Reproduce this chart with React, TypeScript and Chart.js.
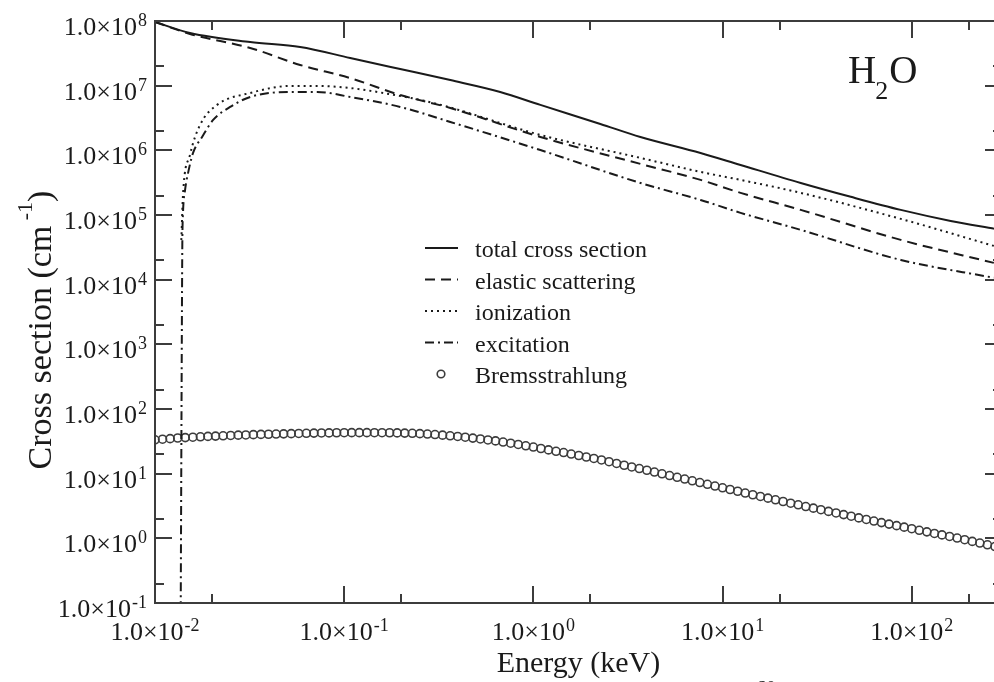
import React, { useEffect, useRef } from "react";
import { Chart, registerables } from "chart.js";

Chart.register(...registerables);

// ---------------- data ----------------
const totalEnergy = [0.01, 0.01531, 0.03185, 0.0585, 0.1076, 0.1977, 0.3639, 0.668, 1.089, 2.26, 3.68, 7.65, 12.45, 25.9, 47.6, 87.5, 160.7, 274.8];
const totalValues = [9.66e7, 6.53e7, 4.73e7, 3.96e7, 2.68e7, 1.81e7, 1.22e7, 8.0e6, 5.04e6, 2.56e6, 1.61e6, 9.12e5, 5.94e5, 3.13e5, 1.91e5, 1.2e5, 8.1e4, 6.1e4];

const elasticEnergy = [0.01, 0.01531, 0.03185, 0.0585, 0.1076, 0.1977, 0.3639, 1.089, 3.68, 7.65, 12.45, 25.9, 87.5, 271.6];
const elasticValues = [9.66e7, 6.3e7, 3.83e7, 2.09e7, 1.31e7, 7.18e6, 4.52e6, 1.61e6, 6.17e5, 3.49e5, 2.2e5, 1.2e5, 4.12e4, 1.82e4];

const ionizationEnergy = [0.01378, 0.01406, 0.01531, 0.0173, 0.02128, 0.03185, 0.0518, 0.0719, 0.1076, 0.1607, 0.2958, 1.089, 3.68, 7.65, 12.45, 25.9, 87.5, 271.6];
const ionizationValues = [4.1e4, 2.05e5, 8.5e5, 2.47e6, 5.04e6, 7.71e6, 9.89e6, 9.89e6, 9.2e6, 7.71e6, 5.41e6, 1.73e6, 7.64e5, 4.64e5, 3.49e5, 2.2e5, 8.71e4, 3.33e4];

const excitationEnergy = [0.01365, 0.0139, 0.01395, 0.01406, 0.01442, 0.01496, 0.01589, 0.01774, 0.02029, 0.02495, 0.03185, 0.0518, 0.0719, 0.1076, 0.1977, 0.3639, 1.089, 3.68, 7.65, 12.45, 25.9, 87.5, 271.6];
const excitationValues = [0.02, 7.7e3, 4.1e4, 1.08e5, 2.44e5, 4.48e5, 9.12e5, 1.61e6, 2.95e6, 4.69e6, 6.69e6, 8.0e6, 8.0e6, 6.69e6, 4.69e6, 2.75e6, 1.01e6, 3.13e5, 1.71e5, 1.08e5, 5.89e4, 2.02e4, 1.07e4];

const bremsEnergy = [
  0.01, 0.01096, 0.01202, 0.01318, 0.01445, 0.01585, 0.01738, 0.01905, 0.02089, 0.02291, 0.02512, 0.02754, 0.0302, 0.03311, 0.03631, 0.03981, 0.04365, 0.04786, 0.05248, 0.05754, 0.0631, 0.06918, 0.07586, 0.08318, 0.0912,
  0.1, 0.1096, 0.1202, 0.1318, 0.1445, 0.1585, 0.1738, 0.1905, 0.2089, 0.2291, 0.2512, 0.2754, 0.302, 0.3311, 0.3631, 0.3981, 0.4365, 0.4786, 0.5248, 0.5754, 0.631, 0.6918, 0.7586, 0.8318, 0.912,
  1, 1.096, 1.202, 1.318, 1.445, 1.585, 1.738, 1.905, 2.089, 2.291, 2.512, 2.754, 3.02, 3.311, 3.631, 3.981, 4.365, 4.786, 5.248, 5.754, 6.31, 6.918, 7.586, 8.318, 9.12,
  10, 10.96, 12.02, 13.18, 14.45, 15.85, 17.38, 19.05, 20.89, 22.91, 25.12, 27.54, 30.2, 33.11, 36.31, 39.81, 43.65, 47.86, 52.48, 57.54, 63.1, 69.18, 75.86, 83.18, 91.2,
  100, 109.6, 120.2, 131.8, 144.5, 158.5, 173.8, 190.5, 208.9, 229.1, 251.2, 275.4,
];
const bremsValues = [
  33.4, 34.1, 34.8, 35.6, 36.1, 36.6, 37.2, 37.7, 38.1, 38.5, 39.0, 39.4, 39.7, 40.1, 40.5, 40.7, 41.0, 41.3, 41.6, 41.9, 42.1, 42.4, 42.6, 42.7, 42.9,
  43.0, 43.1, 43.1, 43.1, 43.0, 43.0, 42.9, 42.7, 42.4, 42.1, 41.6, 41.0, 40.3, 39.4, 38.5, 37.6, 36.6, 35.5, 34.4, 33.2, 32.1, 30.8, 29.6, 28.3, 27.0,
  25.8, 24.5, 23.3, 22.2, 21.2, 20.1, 19.1, 18.1, 17.2, 16.3, 15.3, 14.4, 13.5, 12.7, 12.0, 11.3, 10.6, 9.95, 9.35, 8.79, 8.26, 7.76, 7.29, 6.85, 6.44,
  6.05, 5.69, 5.35, 5.02, 4.72, 4.44, 4.18, 3.94, 3.71, 3.49, 3.30, 3.10, 2.93, 2.77, 2.61, 2.47, 2.33, 2.20, 2.07, 1.96, 1.85, 1.75, 1.66, 1.57, 1.49,
  1.41, 1.33, 1.26, 1.19, 1.13, 1.07, 1.01, 0.953, 0.897, 0.845, 0.794, 0.746,
];

const seriesNames = ["total cross section", "elastic scattering", "ionization", "excitation", "Bremsstrahlung"];

const xMajorTicks = [0.01, 0.1, 1, 10, 100];
const xMinorTicks = [0.02, 0.2, 2, 20, 200];
const xTickExponents = ["-2", "-1", "0", "1", "2"];
const yMajorTicks = [0.1, 1, 10, 100, 1e3, 1e4, 1e5, 1e6, 1e7, 1e8];
const yMinorTicks = [0.2, 2, 20, 200, 2e3, 2e4, 2e5, 2e6, 2e7];
const yTickExponents = ["-1", "0", "1", "2", "3", "4", "5", "6", "7", "8"];
const tickMantissa = "1.0\u00d710";

const xMin = 0.01;
const xMax = 300;
const yMin = 0.1;
const yMax = 1e8;

// ---------------- styling ----------------
const FONT = '"Liberation Serif", "Times New Roman", serif';
const INK = "#1a1a1a";
const AXIS = "#3c3c3c";
const DASH_ELASTIC = [10, 6];
const DASH_ION = [2, 4];
const DASH_EXC = [9, 4, 2, 4];

const pts = (xs: number[], ys: number[]) => xs.map((x, i) => ({ x, y: ys[i] }));

function drawSci(ctx: CanvasRenderingContext2D, exp: string, x: number, y: number, align: "right" | "center") {
  ctx.font = `26px ${FONT}`;
  const w1 = ctx.measureText(tickMantissa).width;
  ctx.font = `18px ${FONT}`;
  const w2 = ctx.measureText(exp).width;
  const total = w1 + 1 + w2;
  const x0 = align === "right" ? x - total : x - total / 2;
  ctx.textAlign = "left";
  ctx.textBaseline = "alphabetic";
  ctx.fillStyle = INK;
  ctx.font = `26px ${FONT}`;
  ctx.fillText(tickMantissa, x0, y);
  ctx.font = `18px ${FONT}`;
  ctx.fillText(exp, x0 + w1 + 1, y - 9);
}

const decorPlugin = {
  id: "decor",
  afterDatasetsDraw(chart: any) {
    const ctx: CanvasRenderingContext2D = chart.ctx;
    const a = chart.chartArea;
    const xs = chart.scales.x;
    const ys = chart.scales.y;
    ctx.save();
    ctx.strokeStyle = AXIS;
    ctx.lineWidth = 2;
    ctx.setLineDash([]);
    ctx.strokeRect(a.left, a.top, a.right - a.left, a.bottom - a.top);
    const seg = (x1: number, y1: number, x2: number, y2: number) => {
      ctx.beginPath();
      ctx.moveTo(x1, y1);
      ctx.lineTo(x2, y2);
      ctx.stroke();
    };
    const MAJ = 17;
    const MIN = 9;
    xMajorTicks.forEach((v) => {
      const p = Math.round(xs.getPixelForValue(v));
      seg(p, a.bottom, p, a.bottom - MAJ);
      seg(p, a.top, p, a.top + MAJ);
    });
    xMinorTicks.forEach((v) => {
      const p = Math.round(xs.getPixelForValue(v));
      seg(p, a.bottom, p, a.bottom - MIN);
      seg(p, a.top, p, a.top + MIN);
    });
    yMajorTicks.forEach((v) => {
      const p = Math.round(ys.getPixelForValue(v));
      seg(a.left, p, a.left + MAJ, p);
      seg(a.right, p, a.right - MAJ, p);
    });
    yMinorTicks.forEach((v) => {
      const p = Math.round(ys.getPixelForValue(v));
      seg(a.left, p, a.left + MIN, p);
      seg(a.right, p, a.right - MIN, p);
    });

    // tick labels
    xMajorTicks.forEach((v, i) => {
      drawSci(ctx, xTickExponents[i], xs.getPixelForValue(v), a.bottom + 37, "center");
    });
    yMajorTicks.forEach((v, i) => {
      drawSci(ctx, yTickExponents[i], a.left - 8, ys.getPixelForValue(v) + 14, "right");
    });

    // axis titles
    ctx.fillStyle = INK;
    ctx.font = `30px ${FONT}`;
    ctx.textAlign = "center";
    ctx.textBaseline = "alphabetic";
    ctx.fillText("Energy (keV)", (a.left + a.right) / 2, 672);

    ctx.save();
    ctx.translate(51, 330);
    ctx.rotate(-Math.PI / 2);
    ctx.textAlign = "left";
    ctx.font = `34px ${FONT}`;
    const t1 = "Cross section (cm";
    const t3 = ")";
    const w1 = ctx.measureText(t1).width;
    const w3 = ctx.measureText(t3).width;
    ctx.font = `22px ${FONT}`;
    const t2 = " -1";
    const w2 = ctx.measureText(t2).width;
    const tot = w1 + w2 + w3;
    let cx = -tot / 2;
    ctx.font = `34px ${FONT}`;
    ctx.fillText(t1, cx, 0);
    cx += w1;
    ctx.font = `22px ${FONT}`;
    ctx.fillText(t2, cx, -19);
    cx += w2;
    ctx.font = `34px ${FONT}`;
    ctx.fillText(t3, cx, 0);
    ctx.restore();

    // H2O label
    ctx.fillStyle = INK;
    ctx.textAlign = "left";
    ctx.font = `39px ${FONT}`;
    ctx.fillText("H", 848, 83);
    const wH = ctx.measureText("H").width;
    ctx.font = `26px ${FONT}`;
    ctx.fillText("2", 848 + wH - 1, 99);
    const w2s = ctx.measureText("2").width;
    ctx.font = `39px ${FONT}`;
    ctx.fillText("O", 848 + wH - 1 + w2s + 1, 83);

    // stray text cut at the lower edge of the source picture
    ctx.font = `20px ${FONT}`;
    ctx.fillText("60", 756, 695);

    // legend
    const rows = [248, 279.5, 311, 342.5, 374];
    const dashes = [[], DASH_ELASTIC, DASH_ION, DASH_EXC];
    ctx.font = `24px ${FONT}`;
    rows.forEach((ry, i) => {
      ctx.strokeStyle = INK;
      if (i < 4) {
        ctx.lineWidth = 2;
        ctx.setLineDash(dashes[i] as number[]);
        seg(425, ry, 458, ry);
        ctx.setLineDash([]);
      } else {
        ctx.lineWidth = 1.6;
        ctx.strokeStyle = AXIS;
        ctx.beginPath();
        ctx.arc(441, ry, 3.8, 0, Math.PI * 2);
        ctx.stroke();
      }
      ctx.fillStyle = INK;
      ctx.fillText(seriesNames[i], 475, ry + 9);
    });
    ctx.restore();
  },
};

export default function App() {
  const canvasRef = useRef<HTMLCanvasElement | null>(null);

  useEffect(() => {
    const canvas = canvasRef.current;
    if (!canvas) return;
    const lineBase = {
      showLine: true,
      pointRadius: 0,
      borderColor: INK,
      borderWidth: 2,
      fill: false,
      cubicInterpolationMode: "monotone" as const,
    };
    const chart = new Chart(canvas, {
      type: "line",
      data: {
        datasets: [
          { ...lineBase, label: seriesNames[0], data: pts(totalEnergy, totalValues) },
          { ...lineBase, label: seriesNames[1], data: pts(elasticEnergy, elasticValues), borderDash: DASH_ELASTIC },
          { ...lineBase, label: seriesNames[2], data: pts(ionizationEnergy, ionizationValues), borderDash: DASH_ION },
          { ...lineBase, label: seriesNames[3], data: pts(excitationEnergy, excitationValues), borderDash: DASH_EXC },
          {
            label: seriesNames[4],
            data: pts(bremsEnergy, bremsValues),
            showLine: false,
            pointRadius: 4,
            pointBorderWidth: 1.6,
            pointBorderColor: AXIS,
            pointBackgroundColor: "rgba(255,255,255,0)",
            borderColor: AXIS,
          },
        ],
      },
      options: {
        responsive: false,
        animation: false,
        devicePixelRatio: 1,
        layout: { padding: { left: 155, right: 8, top: 21, bottom: 79 } },
        plugins: { legend: { display: false }, tooltip: { enabled: false } },
        scales: {
          x: { type: "logarithmic", min: xMin, max: xMax, display: false },
          y: { type: "logarithmic", min: yMin, max: yMax, display: false },
        },
      },
      plugins: [decorPlugin],
    });
    return () => chart.destroy();
  }, []);

  return (
    <div style={{ position: "fixed", left: 0, top: 0, width: 994, height: 682, overflow: "hidden", background: "#fff" }}>
      <canvas ref={canvasRef} width={1010} height={682} style={{ display: "block" }} />
    </div>
  );
}
